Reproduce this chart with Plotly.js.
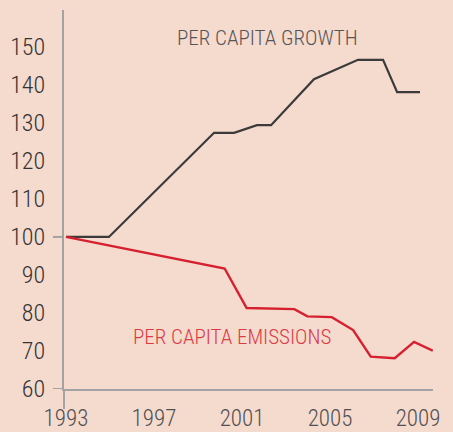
<!DOCTYPE html>
<html>
<head>
<meta charset="utf-8">
<script src="https://cdn.plot.ly/plotly-3.0.1.min.js"></script>
<style>html,body{margin:0;padding:0;background:#f5dace;}</style>
</head>
<body>
<div id="chart" style="width:453px;height:432px;"></div>
<script>
// Per capita growth (index, 1993 = 100)
const growthYears = [1993, 1994.95, 1999.73, 2000.64, 2001.68, 2002.32, 2004.27, 2006.27, 2007.41, 2008.05, 2009.09];
const growthValues = [100, 100, 127.4, 127.4, 129.4, 129.4, 141.5, 146.6, 146.6, 138.1, 138.1];
// Per capita emissions (index, 1993 = 100)
const emissionYears = [1993, 2000.21, 2001.21, 2003.38, 2003.97, 2005.08, 2006.05, 2006.85, 2007.94, 2008.82, 2009.67];
const emissionValues = [100, 91.7, 81.3, 81.0, 79.1, 78.9, 75.5, 68.5, 68.1, 72.4, 70.1];
// Axis labels
const xTickVals = [1993, 1997, 2001, 2005, 2009];
const xTickText = ['1993', '1997', '2001', '2005', '2009'];
const yTickVals = [60, 70, 80, 90, 100, 110, 120, 130, 140, 150];
const growthLabel = 'PER CAPITA GROWTH';
const emissionLabel = 'PER CAPITA EMISSIONS';

const FONT = 'Roboto Condensed, Roboto, sans-serif';
const bg = '#f5dace';

const traces = [
  {x: growthYears, y: growthValues, type: 'scatter', mode: 'lines',
   line: {color: '#3b3b3b', width: 2.2}, hoverinfo: 'skip', cliponaxis: false},
  {x: emissionYears, y: emissionValues, type: 'scatter', mode: 'lines',
   line: {color: '#d6202f', width: 2.4}, hoverinfo: 'skip', cliponaxis: false}
];

const layout = {
  width: 453, height: 432,
  margin: {l: 64, r: 20, t: 10, b: 43},
  paper_bgcolor: bg, plot_bgcolor: bg,
  showlegend: false,
  font: {family: FONT},
  xaxis: {
    range: [1992.91, 2009.68],
    tickvals: xTickVals, ticktext: xTickText,
    showgrid: false, zeroline: false,
    showline: true, linecolor: '#a3a3a3', linewidth: 2,
    ticks: 'outside', ticklen: 7, tickcolor: 'rgba(0,0,0,0)',
    tickfont: {family: FONT, size: 23, weight: 300, color: '#505050'}
  },
  yaxis: {
    range: [60, 159.7],
    tickvals: yTickVals,
    showgrid: false, zeroline: false,
    showline: true, linecolor: '#a3a3a3', linewidth: 2,
    ticks: 'outside', ticklen: 12, tickcolor: 'rgba(0,0,0,0)',
    tickfont: {family: FONT, size: 24, weight: 300, color: '#333333'}
  },
  shapes: [
    {type: 'line', xref: 'paper', yref: 'paper', x0: 0, x1: 0, y0: 0, y1: -0.053,
     line: {color: '#a3a3a3', width: 2}},
    {type: 'line', xref: 'paper', yref: 'y', x0: -0.03, x1: 0, y0: 60, y1: 60,
     line: {color: '#a3a3a3', width: 2}},
    {type: 'line', xref: 'paper', yref: 'y', x0: -0.03, x1: 0, y0: 100, y1: 100,
     line: {color: '#a3a3a3', width: 2}}
  ],
  annotations: [
    {text: growthLabel, xref: 'paper', yref: 'paper', x: (267 - 64) / 369, y: (389 - 38) / 379,
     showarrow: false, xanchor: 'center', yanchor: 'middle',
     font: {family: FONT, size: 21, weight: 300, color: '#555555'}},
    {text: emissionLabel, xref: 'paper', yref: 'paper', x: (232 - 64) / 369, y: (389 - 337) / 379,
     showarrow: false, xanchor: 'center', yanchor: 'middle',
     font: {family: FONT, size: 21, weight: 300, color: '#dc3a44'}}
  ]
};

Plotly.newPlot('chart', traces, layout, {displayModeBar: false, staticPlot: true});
</script>
</body>
</html>
